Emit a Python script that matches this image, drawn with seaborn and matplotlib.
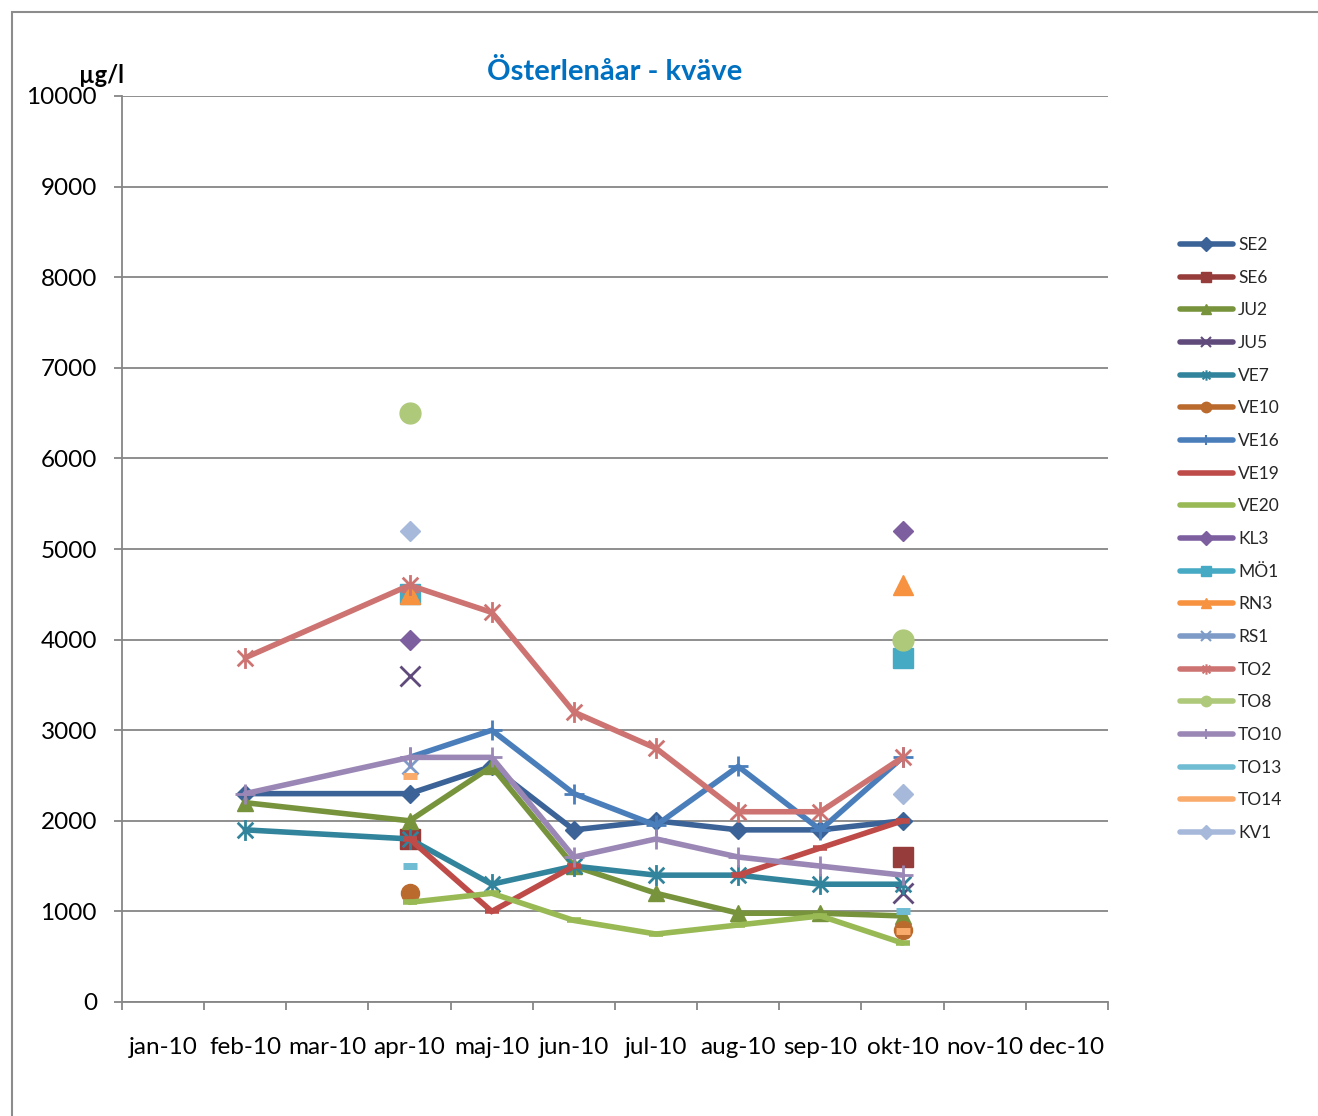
import numpy as np
import pandas as pd
import matplotlib
matplotlib.use("Agg")
import matplotlib.pyplot as plt
from matplotlib.lines import Line2D
from matplotlib.path import Path
from matplotlib.patches import Rectangle
import seaborn as sns

# ---- data -------------------------------------------------------------
months = ["jan-10", "feb-10", "mar-10", "apr-10", "maj-10", "jun-10",
          "jul-10", "aug-10", "sep-10", "okt-10", "nov-10", "dec-10"]
# sampling months (index into months)
sample_idx = [1, 3, 4, 5, 6, 7, 8, 9]
nan = np.nan

SE2 = [2300, 2300, 2600, 1900, 2000, 1900, 1900, 2000]
SE6 = [nan, 1800, nan, nan, nan, nan, nan, 1600]
JU2 = [2200, 2000, 2600, 1500, 1200, 980, 980, 950]
JU5 = [nan, 3600, nan, nan, nan, nan, nan, 1200]
VE7 = [1900, 1800, 1300, 1500, 1400, 1400, 1300, 1300]
VE10 = [nan, 1200, nan, nan, nan, nan, nan, 800]
VE16 = [nan, 2700, 3000, 2300, 1950, 2600, 1900, 2700]
VE19 = [nan, 1800, 1000, 1500, nan, 1400, 1700, 2000]
VE20 = [nan, 1100, 1200, 900, 750, 850, 950, 650]
KL3 = [nan, 4000, nan, nan, nan, nan, nan, 5200]
MO1 = [nan, 4500, nan, nan, nan, nan, nan, 3800]
RN3 = [nan, 4500, nan, nan, nan, nan, nan, 4600]
RS1 = [nan, 2600, nan, nan, nan, nan, nan, nan]
TO2 = [3800, 4600, 4300, 3200, 2800, 2100, 2100, 2700]
TO8 = [nan, 6500, nan, nan, nan, nan, nan, 4000]
TO10 = [2300, 2700, 2700, 1600, 1800, 1600, 1500, 1400]
TO13 = [nan, 1500, nan, nan, nan, nan, nan, 1000]
TO14 = [nan, 2500, nan, nan, nan, nan, nan, 780]
KV1 = [nan, 5200, nan, nan, nan, nan, nan, 2300]

y_ticks = list(range(0, 10001, 1000))

# ---- styles -----------------------------------------------------------
asterisk = Path(
    [(0, -1), (0, 1), (-0.75, -0.75), (0.75, 0.75), (-0.75, 0.75), (0.75, -0.75)],
    [Path.MOVETO, Path.LINETO, Path.MOVETO, Path.LINETO, Path.MOVETO, Path.LINETO],
)

# name, values, colour, marker, size, edge width, filled
series = [
    ("SE2", SE2, "#3B6397", "D", 9, 1, True),
    ("SE6", SE6, "#963C3A", "s", 14, 1, True),
    ("JU2", JU2, "#77933C", "^", 12, 1, True),
    ("JU5", JU5, "#604A7B", "x", 14, 2, False),
    ("VE7", VE7, "#31849B", asterisk, 15, 2, False),
    ("VE10", VE10, "#BB6A2E", "o", 13, 1, True),
    ("VE16", VE16, "#4A7EBB", "+", 15, 2, False),
    ("VE19", VE19, "#BE4B48", "_", 10, 4, False),
    ("VE20", VE20, "#98B954", "_", 10, 4, False),
    ("KL3", KL3, "#7D5FA0", "D", 10.5, 1, True),
    ("MÖ1", MO1, "#46AAC5", "s", 14, 1, True),
    ("RN3", RN3, "#F69240", "^", 15, 1, True),
    ("RS1", RS1, "#7E9BC8", "x", 11, 2, False),
    ("TO2", TO2, "#CD7371", asterisk, 15, 2, False),
    ("TO8", TO8, "#AFC97A", "o", 15, 1, True),
    ("TO10", TO10, "#9B87B5", "+", 15, 2, False),
    ("TO13", TO13, "#6FBCD3", "_", 10, 5, False),
    ("TO14", TO14, "#F9AB6B", "_", 10, 5, False),
    ("KV1", KV1, "#A7B9DA", "D", 10.5, 1, True),
]

sns.set_style("white")
plt.rcParams["font.family"] = ["Lato", "DejaVu Sans"]

fig = plt.figure(figsize=(13.18, 11.16), dpi=100)
W, H = 1318, 1116
ax = fig.add_axes([122 / W, 1 - 1002 / H, (1108 - 122) / W, (1002 - 96) / H])

LW = 4.0
handles = []
for z, (name, vals, col, mk, ms, mew, filled) in enumerate(series):
    v = np.asarray(vals, dtype=float)
    seg = np.cumsum(np.isnan(v))
    df = pd.DataFrame({"x": np.asarray(sample_idx) + 0.5, "y": v, "seg": seg}).dropna()
    sns.lineplot(data=df, x="x", y="y", units="seg", estimator=None, ax=ax,
                 color=col, lw=LW, marker=mk, markersize=ms,
                 markeredgewidth=mew, markeredgecolor=col,
                 markerfacecolor=col if filled else "none",
                 solid_joinstyle="miter", zorder=3 + z, legend=False)
    handles.append(Line2D([], [], color=col, lw=LW, marker=mk, markersize=7.5,
                          markeredgewidth=min(mew, 1.5), markeredgecolor=col,
                          markerfacecolor=col if filled else "none"))

# ---- axes -------------------------------------------------------------
grid_col = "#868686"
ax.set_xlim(0, 12)
ax.set_ylim(0, 10000)
ax.set_yticks(y_ticks)
ax.set_yticklabels([str(t) for t in y_ticks])
ax.set_xticks(range(13))
ax.set_xticklabels([])
ax.set_xticks(np.arange(12) + 0.5, minor=True)
ax.set_xticklabels(months, minor=True)
ax.tick_params(axis="x", which="major", direction="out", length=6, width=1.3,
               color=grid_col, bottom=True)
ax.tick_params(axis="x", which="minor", length=0, pad=25, labelsize=17.5, labelcolor="black")
ax.tick_params(axis="y", direction="out", length=6, width=1.3, color=grid_col,
               left=True, pad=12, labelsize=17.5, labelcolor="black")
ax.yaxis.grid(True, color=grid_col, lw=1.3)
ax.xaxis.grid(False)
ax.set_axisbelow(True)
for s in ["top", "right"]:
    ax.spines[s].set_visible(False)
for s in ["left", "bottom"]:
    ax.spines[s].set_color(grid_col)
    ax.spines[s].set_linewidth(1.3)
ax.set_xlabel("")
ax.set_ylabel("")

# titles
fig.text(615 / W, 1 - 80 / H, "Österlenåar - kväve", ha="center", va="baseline",
         fontsize=21, fontweight="bold", color="#0070C0")
fig.text(79 / W, 1 - 83 / H, "µg/l", ha="left", va="baseline",
         fontsize=17, fontweight="bold", color="black")

# chart frame
fig.patches.append(Rectangle((12 / W, -0.1), 1.2, 1.1 - 12 / H, transform=fig.transFigure,
                             fill=False, edgecolor="#8C8C8C", lw=1.5))

fig.legend(handles, [s[0] for s in series], loc="upper left",
           bbox_to_anchor=(1180 / W, 1 - 237 / H), frameon=False, fontsize=12.5,
           handlelength=3.05, handletextpad=0.3, labelspacing=0.96,
           borderpad=0, borderaxespad=0)

fig.savefig("out.png", dpi=100)
